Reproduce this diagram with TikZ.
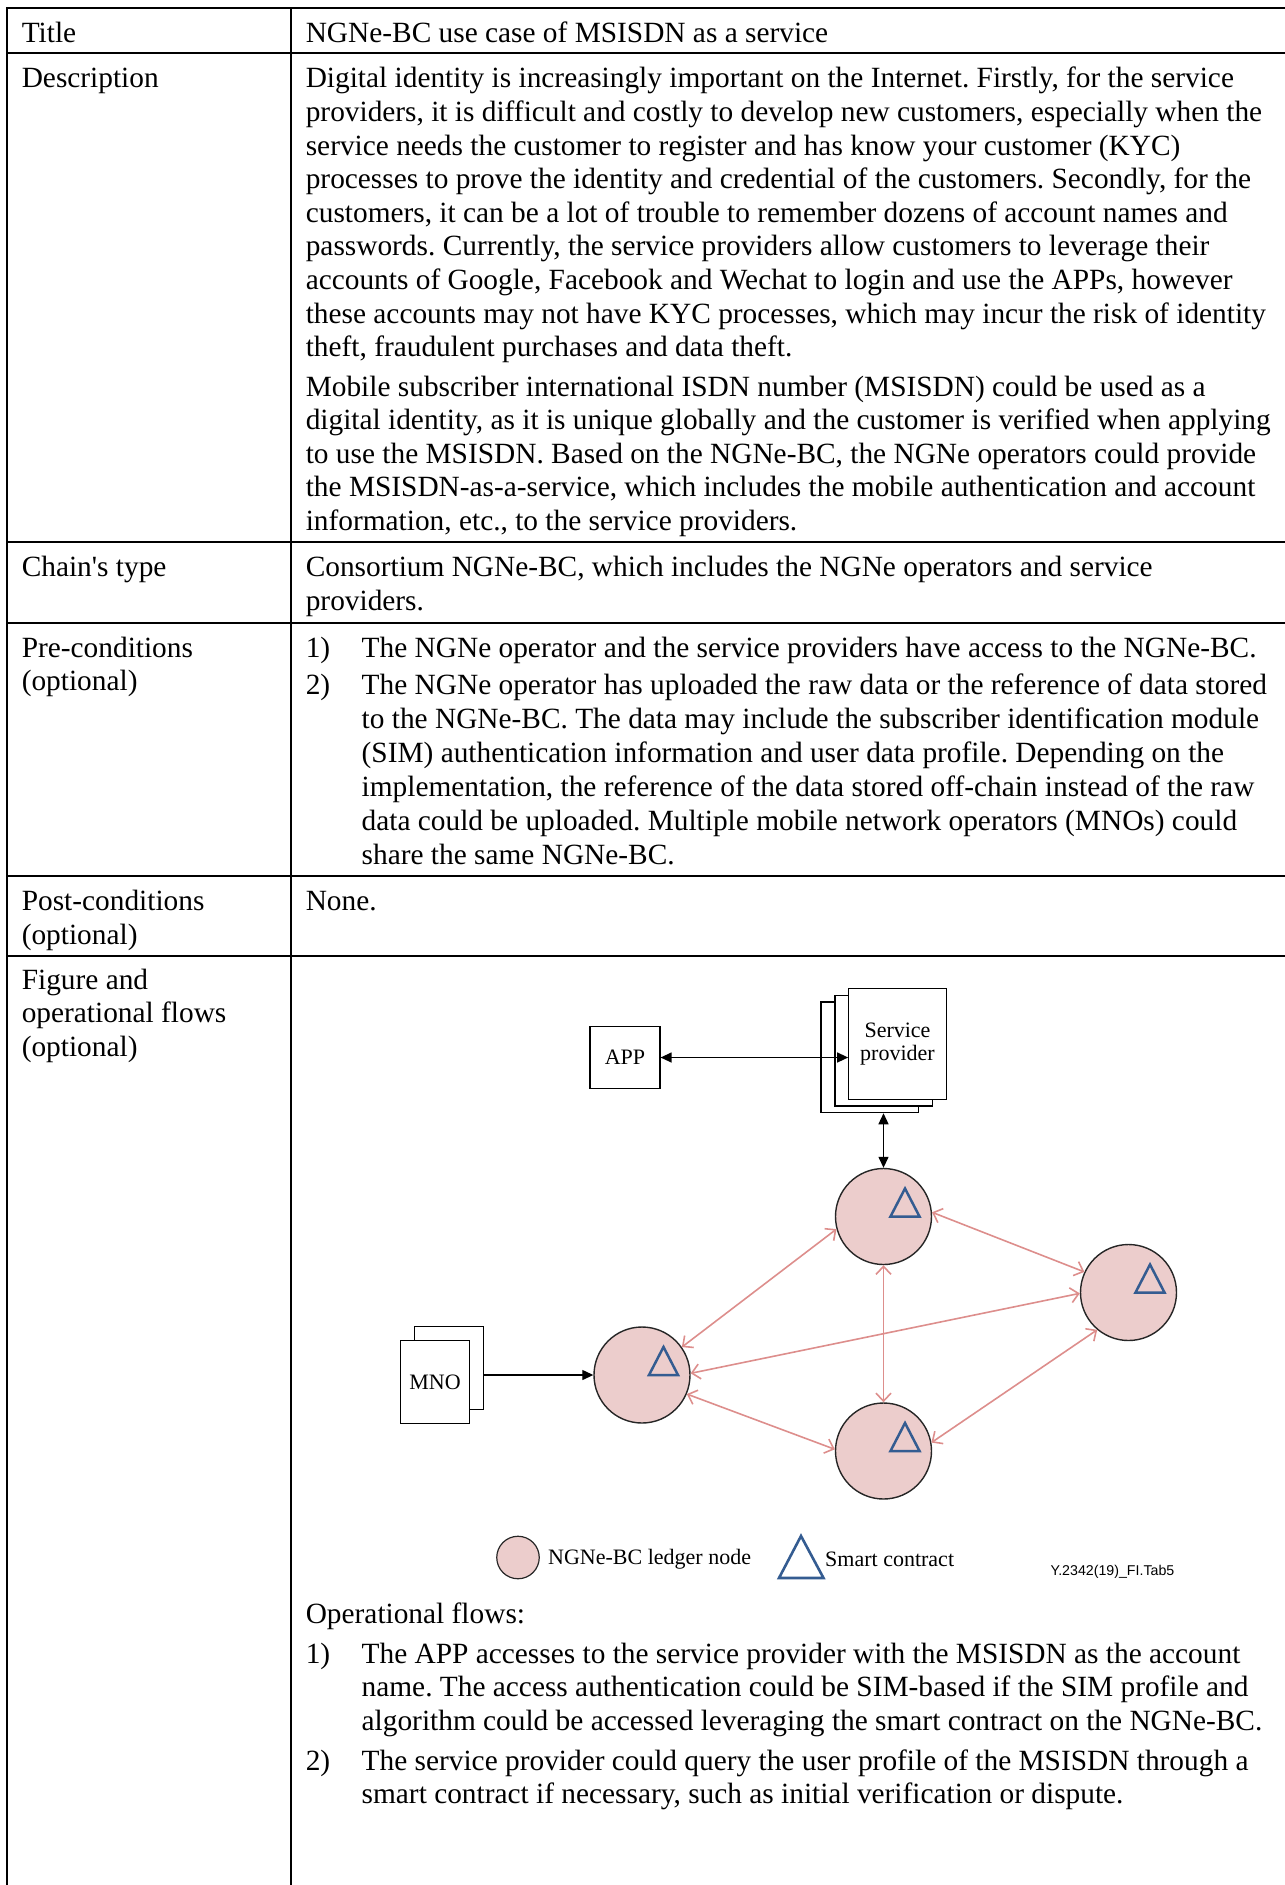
\documentclass[tikz,border=0pt]{standalone}
\usepackage{fontspec}
\setmainfont{Liberation Serif}
\newfontfamily\tagfont{Liberation Sans}
\usetikzlibrary{arrows.meta}
\definecolor{ledgerfill}{RGB}{236,205,204}
\definecolor{linkpink}{RGB}{221,142,140}
\definecolor{contractblue}{RGB}{52,92,145}
\frenchspacing

\begin{document}
\begin{tikzpicture}[x=1pt,y=1pt,
  rule/.style={line width=2pt, line cap=rect},
  body/.style={font=\fontsize{29.35}{33.6}\selectfont, inner sep=0pt, anchor=base west},
  figtext/.style={font=\fontsize{22}{23}\selectfont},
  ledger/.style={circle, draw=black!85, line width=1.4pt, fill=ledgerfill,
                 minimum size=96pt, inner sep=0pt},
  sppage/.style={draw, line width=1.2pt, fill=white, inner sep=0pt,
                 minimum width=97.5pt, minimum height=110.7pt, figtext, align=center},
  mnopage/.style={draw, line width=1.2pt, fill=white, inner sep=0pt,
                 minimum width=69pt, minimum height=83pt, figtext},
  appbox/.style={draw, line width=1.2pt, fill=white, inner sep=0pt,
                 minimum width=70pt, minimum height=62.5pt, figtext},
  link/.style={draw=linkpink, line width=1.6pt,
               {Straight Barb[length=8pt,width=15pt,line width=1.6pt]}-{Straight Barb[length=8pt,width=15pt,line width=1.6pt]}},
  both/.style={line width=1.3pt, {Triangle[length=11pt,width=10pt]}-{Triangle[length=11pt,width=10pt]}},
  single/.style={line width=1.3pt, -{Triangle[length=11pt,width=10pt]}},
  contract/.style={draw=contractblue, line width=2.5pt, line join=miter},
]
\useasboundingbox (0,0) rectangle (1285,-1885);

% table rules
\draw[rule] (7,-8.3) -- (1290,-8.3);
\draw[rule] (7,-8.3) -- (7,-1890);
\draw[rule] (291,-8.3) -- (291,-1890);
\foreach \ry in {52.7,542.3,622.7,876.3,956}
  \draw[rule] (7,-\ry) -- (1290,-\ry);

% left column labels
\node[body] (lTitle) at (21.6,-42.7) {Title};
\node[body] (lDesc) at (21.6,-87.9) {Description};
\node[body] (lChain) at (21.6,-576.3) {Chain\textquotesingle s type};
\node[body] (lPre1) at (21.6,-657) {Pre-conditions};
\node[body] (lPre2) at (21.6,-690.8) {(optional)};
\node[body] (lPost1) at (21.6,-910.3) {Post-conditions};
\node[body] (lPost2) at (21.6,-944.3) {(optional)};
\node[body] (lFig1) at (21.6,-989) {Figure and};
\node[body] (lFig2) at (21.6,-1022.7) {operational flows};
\node[body] (lFig3) at (21.6,-1056.5) {(optional)};

% title
\node[body] (rTitle) at (305.6,-42.7) {NGNe-BC use case of MSISDN as a service};

% description
\foreach \ln [count=\k from 0] in {
  {Digital identity is increasingly important on the Internet. Firstly, for the service},
  {providers, it is difficult and costly to develop new customers, especially when the},
  {service needs the customer to register and has know your customer (KYC)},
  {processes to prove the identity and credential of the customers. Secondly, for the},
  {customers, it can be a lot of trouble to remember dozens of account names and},
  {passwords. Currently, the service providers allow customers to leverage their},
  {accounts of Google, Facebook and Wechat to login and use the APPs, however},
  {these accounts may not have KYC processes, which may incur the risk of identity},
  {theft, fraudulent purchases and data theft.}}
  \node[body] (descA\k) at (305.6,{-87.9-\k*33.6}) {\ln};
\foreach \ln [count=\k from 0] in {
  {Mobile subscriber international ISDN number (MSISDN) could be used as a},
  {digital identity, as it is unique globally and the customer is verified when applying},
  {to use the MSISDN. Based on the NGNe-BC, the NGNe operators could provide},
  {the MSISDN-as-a-service, which includes the mobile authentication and account},
  {information, etc., to the service providers.}}
  \node[body] (descB\k) at (305.6,{-396-\k*33.5}) {\ln};

% chain's type
\node[body] (chain0) at (305.6,-576.3) {Consortium NGNe-BC, which includes the NGNe operators and service};
\node[body] (chain1) at (305.6,-610.2) {providers.};

% pre-conditions
\node[body] (preN1) at (305.6,-657) {1)};
\node[body] (preI1) at (361.5,-657) {The NGNe operator and the service providers have access to the NGNe-BC.};
\node[body] (preN2) at (305.6,-694) {2)};
\foreach \ln [count=\k from 0] in {
  {The NGNe operator has uploaded the raw data or the reference of data stored},
  {to the NGNe-BC. The data may include the subscriber identification module},
  {(SIM) authentication information and user data profile. Depending on the},
  {implementation, the reference of the data stored off-chain instead of the raw},
  {data could be uploaded. Multiple mobile network operators (MNOs) could},
  {share the same NGNe-BC.}}
  \node[body] (preI2\k) at (361.5,{-694-\k*34.1}) {\ln};

% post-conditions
\node[body] (post) at (305.6,-910.3) {None.};

% figure: application, service provider and operator
\node[appbox] (app) at (625,-1057.5) {APP};
\node[sppage] (spback) at (869.8,-1057.3) {};
\node[sppage] (spmid) at (883.75,-1050.65) {};
\node[sppage] (spfront) at (897.5,-1044.05) {Service\\provider};
\node[mnopage] (mnoback) at (449,-1368.2) {};
\node[mnopage] (mnofront) at (435.1,-1382.1) {MNO};

% figure: ledger nodes
\node[ledger] (T) at (883.5,-1216.5) {};
\node[ledger] (R) at (1128.5,-1292.5) {};
\node[ledger] (L) at (642,-1375) {};
\node[ledger] (B) at (883.5,-1451) {};
\foreach \n in {T,R,L,B}
  \draw[contract] ([shift={(7,0)}]\n.center) -- ([shift={(21.5,28)}]\n.center)
                  -- ([shift={(36,0)}]\n.center) -- cycle;

% figure: connectors
\draw[both] (app.east) -- (app.east -| spfront.west);
\draw[both] (T.north |- spback.south) -- (T.north);
\draw[single] (mnoback.east |- L.west) -- (L.west);
\draw[link] (T.195.2) -- (L.35);
\draw[link] (T.5.2) -- (R.155.8);
\draw[link] (T.south) -- (B.north);
\draw[link] (L.2.7) -- (R.181.6);
\draw[link] (L.-23.7) -- (B.178.6);
\draw[link] (B.10.1) -- (R.-130.8);

% figure: legend
\node[ledger, minimum size=42.5pt, line width=1.2pt] (legnode) at (518,-1557.5) {};
\node[figtext, anchor=base west, inner sep=0pt] (legnodetxt) at (548,-1564) {NGNe-BC ledger node};
\draw[contract, line width=2.6pt] (779,-1578) -- (801,-1536) -- (823.5,-1578) -- cycle;
\node[figtext, anchor=base west, inner sep=0pt] (legtritxt) at (825,-1566) {Smart contract};
\node[font=\tagfont\fontsize{14.2}{16}\selectfont, anchor=base west, inner sep=0pt] (figtag)
  at (1050.4,-1575) {Y.2342(19)\_FI.Tab5};

% operational flows
\node[body] (ops) at (305.6,-1623.5) {Operational flows:};
\node[body] (opN1) at (305.6,-1663) {1)};
\foreach \ln [count=\k from 0] in {
  {The APP accesses to the service provider with the MSISDN as the account},
  {name. The access authentication could be SIM-based if the SIM profile and},
  {algorithm could be accessed leveraging the smart contract on the NGNe-BC.}}
  \node[body] (opI1\k) at (361.5,{-1663-\k*33.5}) {\ln};
\node[body] (opN2) at (305.6,-1770) {2)};
\foreach \ln [count=\k from 0] in {
  {The service provider could query the user profile of the MSISDN through a},
  {smart contract if necessary, such as initial verification or dispute.}}
  \node[body] (opI2\k) at (361.5,{-1770-\k*33.3}) {\ln};
\end{tikzpicture}
\end{document}
